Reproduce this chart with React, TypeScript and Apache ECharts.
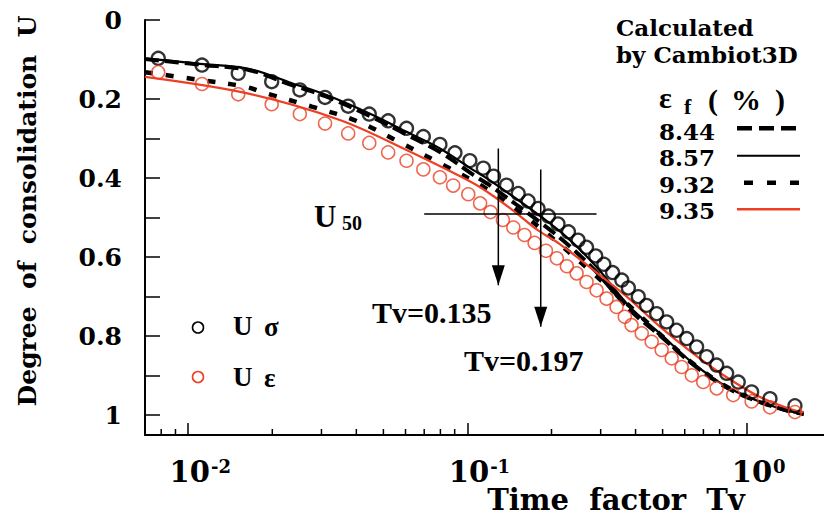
import React, { useEffect, useRef } from "react";
import * as echarts from "echarts";

// Measured points (U sigma, black circles)
const tvSigma = [0.00781, 0.0112, 0.0151, 0.0199, 0.0251, 0.0309, 0.0374, 0.0445, 0.052, 0.0605, 0.0695, 0.0797, 0.0902, 0.102, 0.114, 0.124, 0.138, 0.152, 0.165, 0.179, 0.195, 0.211, 0.23, 0.249, 0.267, 0.288, 0.308, 0.331, 0.357, 0.377, 0.409, 0.438, 0.476, 0.517, 0.561, 0.61, 0.662, 0.719, 0.781, 0.848, 0.933, 1.042, 1.212, 1.489];
const uSigma = [0.097, 0.114, 0.135, 0.156, 0.177, 0.196, 0.218, 0.238, 0.255, 0.274, 0.295, 0.315, 0.336, 0.356, 0.375, 0.395, 0.418, 0.439, 0.458, 0.477, 0.496, 0.516, 0.536, 0.557, 0.575, 0.597, 0.618, 0.639, 0.658, 0.678, 0.7, 0.722, 0.743, 0.764, 0.785, 0.806, 0.827, 0.852, 0.873, 0.894, 0.916, 0.941, 0.958, 0.976];

// Measured points (U epsilon, red circles)
const tvEps = [0.00781, 0.0112, 0.0151, 0.0199, 0.0251, 0.0309, 0.0374, 0.0445, 0.052, 0.0605, 0.0695, 0.0797, 0.0889, 0.1007, 0.111, 0.121, 0.134, 0.146, 0.16, 0.174, 0.191, 0.209, 0.227, 0.246, 0.267, 0.29, 0.315, 0.342, 0.366, 0.387, 0.421, 0.457, 0.496, 0.539, 0.585, 0.636, 0.699, 0.781, 0.895, 1.042, 1.212, 1.489];
const uEps = [0.132, 0.162, 0.188, 0.213, 0.238, 0.262, 0.287, 0.311, 0.335, 0.356, 0.378, 0.398, 0.419, 0.441, 0.464, 0.486, 0.506, 0.525, 0.544, 0.564, 0.584, 0.603, 0.623, 0.641, 0.663, 0.684, 0.705, 0.726, 0.751, 0.772, 0.793, 0.814, 0.835, 0.856, 0.878, 0.899, 0.916, 0.932, 0.949, 0.965, 0.98, 0.992];

// Calculated curves (Cambiot3D)
const tv844 = [0.007, 0.011, 0.0166, 0.0231, 0.0313, 0.046, 0.0605, 0.0797, 0.105, 0.12, 0.187, 0.233, 0.29, 0.382, 0.489, 0.644, 0.848, 1.116, 1.469, 1.6];
const u844 = [0.099, 0.113, 0.127, 0.163, 0.194, 0.247, 0.29, 0.334, 0.392, 0.418, 0.518, 0.573, 0.638, 0.734, 0.798, 0.872, 0.93, 0.967, 0.992, 0.996];
const tv857 = [0.007, 0.011, 0.0166, 0.0231, 0.0313, 0.046, 0.0605, 0.0797, 0.105, 0.12, 0.187, 0.233, 0.29, 0.382, 0.489, 0.644, 0.848, 1.116, 1.469, 1.6];
const u857 = [0.097, 0.111, 0.124, 0.158, 0.19, 0.241, 0.283, 0.325, 0.38, 0.405, 0.502, 0.557, 0.625, 0.726, 0.793, 0.869, 0.928, 0.966, 0.992, 0.996];
const tv932 = [0.007, 0.0106, 0.016, 0.0191, 0.0277, 0.0406, 0.0589, 0.0819, 0.114, 0.156, 0.209, 0.282, 0.372, 0.489, 0.644, 0.848, 1.116, 1.469, 1.6];
const u932 = [0.132, 0.15, 0.169, 0.186, 0.219, 0.257, 0.314, 0.367, 0.422, 0.489, 0.561, 0.641, 0.717, 0.795, 0.87, 0.928, 0.966, 0.992, 0.996];
const tv935 = [0.007, 0.0166, 0.0349, 0.0605, 0.105, 0.127, 0.15, 0.177, 0.214, 0.282, 0.372, 0.489, 0.644, 0.848, 1.116, 1.469, 1.6];
const u935 = [0.144, 0.187, 0.253, 0.329, 0.413, 0.451, 0.489, 0.53, 0.567, 0.632, 0.7, 0.776, 0.844, 0.904, 0.954, 0.987, 0.992];

// Axes
const xMajorTicks = [0.01, 0.1, 1];
const xMinorTicks = [0.008, 0.009, 0.02, 0.03, 0.04, 0.05, 0.06, 0.07, 0.08, 0.09, 0.2, 0.3, 0.4, 0.5, 0.6, 0.7, 0.8, 0.9];
const yTicks = [0, 0.1, 0.2, 0.3, 0.4, 0.5, 0.6, 0.7, 0.8, 0.9, 1.0];
const yLabels = [0, 0.2, 0.4, 0.6, 0.8, 1];
const xMinTv = 0.007;
const xMaxLog = 0.277;
const yMax = 1.05;

// Annotations
const u50Level = 0.491;
const u50Range = [0.07, 0.29];
const arrowTv = [0.129, 0.183];
const arrowFrom = [0.325, 0.378];
const arrowTo = [0.671, 0.776];
const arrowLabels = ["Tv=0.135", "Tv=0.197"];

const legendValues = ["8.44", "8.57", "9.32", "9.35"];

const RED = "#ec3f23";
const DJ = '"DejaVu Serif"';
const TM = '"Liberation Serif"';

const L = (v: number) => Math.log10(v);
const pts = (tv: number[], u: number[]) => tv.map((t, i) => [L(t), u[i]]);

function txt(text: string, x: number, y: number, size: number, family: string, align = "left", extra: any = {}, styleExtra: any = {}) {
  return {
    type: "text",
    x,
    y,
    ...extra,
    style: {
      text,
      fontSize: size,
      fontFamily: family,
      fontWeight: "bold",
      fill: "#000",
      align,
      verticalAlign: "middle",
      ...styleExtra,
    },
  };
}

function hline(x1: number, x2: number, y: number, stroke: string, lineWidth: number, lineDash?: number[]) {
  return {
    type: "line",
    shape: { x1, y1: y, x2, y2: y },
    style: { stroke, lineWidth, lineDash: lineDash || null },
  };
}

export default function App() {
  const ref = useRef<HTMLDivElement>(null);
  useEffect(() => {
    if (!ref.current) return;
    const chart = echarts.init(ref.current, null, { renderer: "svg" });
    const tickStyle = { color: "#000", width: 1.5 };

    const arrowSeries = arrowTv.map((t, i) => ({
      type: "line",
      data: [
        { value: [L(t), arrowFrom[i]], symbol: "none" },
        { value: [L(t), arrowTo[i]], symbol: "triangle", symbolSize: [13, 20], symbolRotate: 180, symbolOffset: [0, -10] },
      ],
      symbol: "triangle",
      showSymbol: true,
      itemStyle: { color: "#000" },
      lineStyle: { color: "#000", width: 1.5 },
      silent: true,
      z: 5,
    }));

    const option: any = {
      animation: false,
      backgroundColor: "#fff",
      grid: { left: 145, right: 0, top: 20, bottom: 88, containLabel: false },
      xAxis: {
        type: "value",
        min: L(xMinTv),
        max: xMaxLog,
        position: "bottom",
        axisLine: { show: true, onZero: false, lineStyle: { color: "#000", width: 2 } },
        axisTick: { show: true, inside: true, length: 12, customValues: xMajorTicks.map(L), lineStyle: tickStyle },
        axisLabel: {
          show: true,
          customValues: xMajorTicks.map(L),
          margin: 22,
          padding: [0, 0, 0, 24],
          formatter: (v: number) => `{b|10}{s|${Math.round(v)}}`,
          rich: {
            b: { fontSize: 29, fontFamily: DJ, fontWeight: "bold", color: "#000", verticalAlign: "bottom" },
            s: { fontSize: 18, fontFamily: DJ, fontWeight: "bold", color: "#000", verticalAlign: "bottom", padding: [0, 0, 11, 1] },
          },
        },
        splitLine: { show: false },
      },
      yAxis: {
        type: "value",
        inverse: true,
        min: 0,
        max: yMax,
        axisLine: { show: true, onZero: false, lineStyle: { color: "#000", width: 2 } },
        axisTick: { show: true, inside: true, length: 15, customValues: yTicks, lineStyle: tickStyle },
        axisLabel: {
          show: true,
          customValues: yLabels,
          margin: 23,
          fontSize: 25,
          fontFamily: DJ,
          fontWeight: "bold",
          color: "#000",
          formatter: (v: number) => (v === 0 ? "0" : v === 1 ? "1" : v.toFixed(1)),
        },
        splitLine: { show: false },
      },
      series: [
        {
          type: "custom",
          data: xMinorTicks.map((t) => [L(t), yMax]),
          renderItem: (params: any, api: any) => {
            const p = api.coord([api.value(0), api.value(1)]);
            return {
              type: "line",
              shape: { x1: p[0], y1: p[1], x2: p[0], y2: p[1] - 6 },
              style: { stroke: "#000", lineWidth: 1.5 },
            };
          },
          clip: false,
          silent: true,
          z: 4,
        },
        {
          type: "line", name: "8.44", data: pts(tv844, u844), symbol: "none", smooth: 0.35,
          lineStyle: { color: "#000", width: 4, type: [14, 6] }, z: 2,
        },
        {
          type: "line", name: "8.57", data: pts(tv857, u857), symbol: "none", smooth: 0.35,
          lineStyle: { color: "#000", width: 2.2 }, z: 2,
        },
        {
          type: "line", name: "9.32", data: pts(tv932, u932), symbol: "none", smooth: 0.35,
          lineStyle: { color: "#000", width: 4.5, type: [8, 13] }, z: 2,
        },
        {
          type: "line", name: "9.35", data: pts(tv935, u935), symbol: "none", smooth: 0.35,
          lineStyle: { color: RED, width: 2.2 }, z: 2,
        },
        {
          type: "scatter", name: "U σ", data: pts(tvSigma, uSigma), symbol: "circle", symbolSize: 13,
          itemStyle: { color: "transparent", borderColor: "#000", borderWidth: 2.3 }, z: 3,
        },
        {
          type: "scatter", name: "U ε", data: pts(tvEps, uEps), symbol: "circle", symbolSize: 13,
          itemStyle: { color: "transparent", borderColor: RED, borderWidth: 1.5 }, z: 3,
        },
        {
          type: "line",
          data: u50Range.map((t) => [L(t), u50Level]),
          symbol: "none",
          lineStyle: { color: "#000", width: 1.5 },
          silent: true,
          z: 5,
        },
        ...arrowSeries,
      ],
      graphic: [
        txt("Degree  of  consolidation  U", 27, 211, 25, DJ, "center", { rotation: Math.PI / 2 }),
        txt("Time  factor  Tv", 616, 500, 29, DJ, "center"),
        txt("Calculated\nby Cambiot3D", 616, 40.75, 23, DJ, "left", {}, { lineHeight: 26.5 }),
        txt("ε", 659, 97, 30, TM),
        txt("f", 684, 106, 22, TM),
        txt("(", 708, 99, 30, TM),
        txt("%", 731, 99, 30, TM),
        txt(")", 775, 99, 30, TM),
        txt(legendValues.join("\n"), 659, 170.75, 23, DJ, "left", {}, { lineHeight: 26.5 }),
        hline(737, 800, 128.3, "#000", 4.5, [15, 7]),
        hline(737, 800, 155.7, "#000", 2),
        hline(744, 800, 182.7, "#000", 4.5, [9, 14]),
        hline(737, 800, 209.3, RED, 2.5),
        { type: "circle", shape: { cx: 198, cy: 327.5, r: 5.5 }, style: { fill: "none", stroke: "#000", lineWidth: 1.6 } },
        { type: "circle", shape: { cx: 198, cy: 377, r: 5.5 }, style: { fill: "none", stroke: RED, lineWidth: 1.6 } },
        txt("U", 233, 326, 27, TM),
        txt("σ", 264, 327, 27, TM),
        txt("U", 233, 376.5, 27, TM),
        txt("ε", 264, 378, 27, TM),
        txt("U", 314, 216, 31, TM),
        txt("50", 342, 223, 20, TM),
        txt(arrowLabels[0], 372, 312, 30, TM),
        txt(arrowLabels[1], 464, 360, 30, TM),
      ],
    };
    chart.setOption(option);
    return () => chart.dispose();
  }, []);
  return (
    <div
      ref={ref}
      style={{ position: "fixed", left: 0, top: 0, width: 824, height: 523, background: "#fff" }}
    />
  );
}
